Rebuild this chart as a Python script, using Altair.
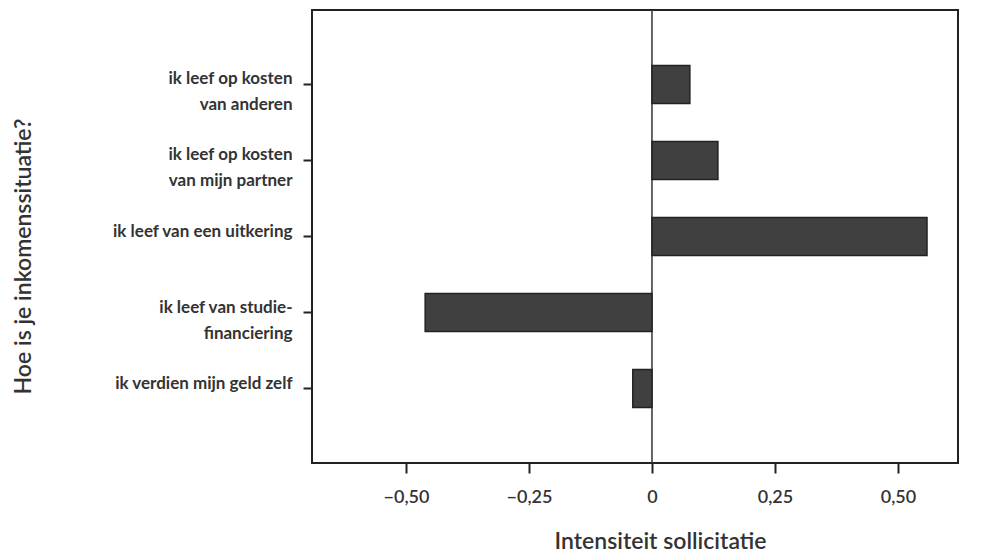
import altair as alt
import pandas as pd

categories = [
    "ik leef op kosten|van anderen",
    "ik leef op kosten|van mijn partner",
    "ik leef van een uitkering",
    "ik leef van studie-|financiering",
    "ik verdien mijn geld zelf",
]
values = [0.077, 0.134, 0.559, -0.461, -0.039]
x_ticks = [-0.5, -0.25, 0, 0.25, 0.5]

df = pd.DataFrame({"cat": categories, "val": values})

FONT = "Lato"

x_enc = alt.X(
    "val:Q",
    scale=alt.Scale(domain=[-0.691, 0.622], nice=False, zero=False),
    axis=alt.Axis(
        title="Intensiteit sollicitatie",
        values=x_ticks,
        labelExpr="datum.value == 0 ? '0' : replace(format(datum.value, '.2f'), '.', ',')",
        grid=False, domain=False,
        tickSize=10, tickWidth=2, tickColor="#222",
        labelPadding=15, labelFontSize=18, labelFont=FONT, labelFontWeight=600,
        labelColor="#333",
        titleFontSize=23, titleFont=FONT, titleFontWeight=600, titleColor="#333",
        titlePadding=24, titleX=348,
    ),
)

y_enc = alt.Y(
    "cat:N",
    sort=categories,
    scale=alt.Scale(paddingInner=0.5, paddingOuter=0.73),
    axis=alt.Axis(
        title="Hoe is je inkomenssituatie?",
        grid=False, domain=False,
        tickSize=9, tickWidth=2, tickColor="#222",
        labelExpr="split(datum.label, '|')",
        labelPadding=11, labelFontSize=17, labelFont=FONT, labelFontWeight="bold",
        labelColor="#333", labelBaseline="alphabetic", labelLineHeight=26,
        labelAlign="right", labelLimit=400,
        titleFontSize=23, titleFont=FONT, titleFontWeight=600, titleColor="#333",
        titleX=-277, titleY=246,
    ),
)

bars = alt.Chart(df).mark_bar(color="#404040", stroke="#222", strokeWidth=1.5).encode(
    x=x_enc, y=y_enc
)

zero = alt.Chart(pd.DataFrame({"z": [0]})).mark_rule(color="#333", strokeWidth=1.5).encode(
    x="z:Q"
)

chart = (
    alt.layer(zero, bars)
    .properties(
        width=646,
        height=453,
        autosize=alt.AutoSizeParams(type="none"),
        padding={"left": 304, "top": 2, "right": 19, "bottom": 95},
        background="white",
    )
    .configure_view(stroke="#222", strokeWidth=2)
)

chart.save("out.html", embed_options={"renderer": "svg", "actions": False})
